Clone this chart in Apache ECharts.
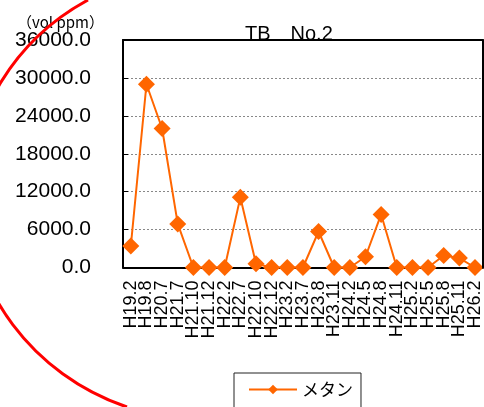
<!DOCTYPE html>
<html>
<head>
<meta charset="utf-8">
<script src="https://cdn.jsdelivr.net/npm/echarts@6/dist/echarts.min.js"></script>
<style>
  html, body { margin: 0; padding: 0; background: #fff; }
  #chart { width: 484px; height: 407px; }
</style>
</head>
<body>
<div id="chart"></div>
<script>
// Survey dates (Heisei year.month)
const categories = ['H19.2','H19.8','H20.7','H21.7','H21.10','H21.12','H22.2','H22.7','H22.10','H22.12',
  'H23.2','H23.7','H23.8','H23.11','H24.2','H24.5','H24.8','H24.11','H25.2','H25.5','H25.8','H25.11','H26.2'];
// Methane concentration (vol ppm)
const methane = [3400, 29000, 22000, 6900, 0, 0, 0, 11100, 600, 0,
  0, 0, 5700, 0, 0, 1700, 8400, 0, 0, 0, 1900, 1500, 0];
const seriesName = 'メタン';
const chartTitle = 'TB\u3000No.2';
const unitLabel = '（vol ppm）';
const yMin = 0, yMax = 36000, yStep = 6000;

const numFont = 'Liberation Sans, Arial, sans-serif';
const jpFont = '"Noto Sans CJK JP", sans-serif';

const chart = echarts.init(document.getElementById('chart'));
chart.setOption({
  animation: false,
  backgroundColor: '#fff',
  title: [
    { text: chartTitle, left: 240, top: 19, z: 1,
      textStyle: { fontFamily: numFont, fontSize: 20, fontWeight: 'normal', color: '#000' } },
    { text: unitLabel, left: 12, top: 10, z: 1,
      textStyle: { fontFamily: jpFont, fontSize: 15, fontWeight: 'normal', color: '#000' } }
  ],
  grid: { left: 123, right: 1, top: 40, bottom: 139.5, containLabel: false },
  legend: {
    left: 234, top: 373,
    padding: [8, 8, 30, 14],
    borderColor: '#222', borderWidth: 1,
    itemWidth: 48, itemHeight: 12,
    textStyle: { fontFamily: jpFont, fontSize: 17, color: '#000' },
    data: [seriesName]
  },
  xAxis: [
    {
      type: 'category', data: categories, boundaryGap: true,
      axisLine: { lineStyle: { color: '#000', width: 2 } },
      axisTick: { inside: true, length: 5, lineStyle: { color: '#000' } },
      axisLabel: { rotate: 90, interval: 0, margin: 13, fontFamily: numFont, fontSize: 18, color: '#000' },
      splitLine: { show: false }
    },
    {
      type: 'category', data: categories, position: 'top', z: 10,
      axisLine: { onZero: false, lineStyle: { color: '#000', width: 2 } },
      axisTick: { show: false }, axisLabel: { show: false }, splitLine: { show: false }
    }
  ],
  yAxis: [
    {
      type: 'value', min: yMin, max: yMax, interval: yStep,
      axisLine: { show: true, onZero: false, lineStyle: { color: '#000', width: 2 } },
      axisTick: { show: true, inside: true, length: 5, lineStyle: { color: '#000' } },
      axisLabel: { margin: 32, fontFamily: numFont, fontSize: 21, color: '#000',
        formatter: v => v.toFixed(1) },
      splitLine: { show: true, lineStyle: { color: '#888', width: 1, type: [2, 2] } }
    },
    {
      type: 'value', min: yMin, max: yMax, interval: yStep, position: 'right', z: 10,
      axisLine: { show: true, onZero: false, lineStyle: { color: '#000', width: 2 } },
      axisTick: { show: false }, axisLabel: { show: false }, splitLine: { show: false }
    }
  ],
  series: [{
    name: seriesName,
    type: 'line',
    data: methane,
    symbol: 'diamond',
    symbolSize: 17,
    color: '#FF6600',
    lineStyle: { color: '#FF6600', width: 2 },
    itemStyle: { color: '#FF6600' }
  }],
  graphic: [
    // red hand-drawn marking arc along the left edge (two cubic pieces)
    { type: 'bezierCurve', z: 20,
      shape: { x1: 88, y1: 0, cpx1: 14, cpy1: 40, cpx2: -31, cpy2: 115, x2: -31, y2: 195 },
      style: { fill: null, stroke: '#FF0000', lineWidth: 3 } },
    { type: 'bezierCurve', z: 20,
      shape: { x1: -31, y1: 195, cpx1: -31, cpy1: 290, cpx2: 33, cpy2: 375, x2: 127, y2: 407 },
      style: { fill: null, stroke: '#FF0000', lineWidth: 3 } }
  ]
});
</script>
</body>
</html>
